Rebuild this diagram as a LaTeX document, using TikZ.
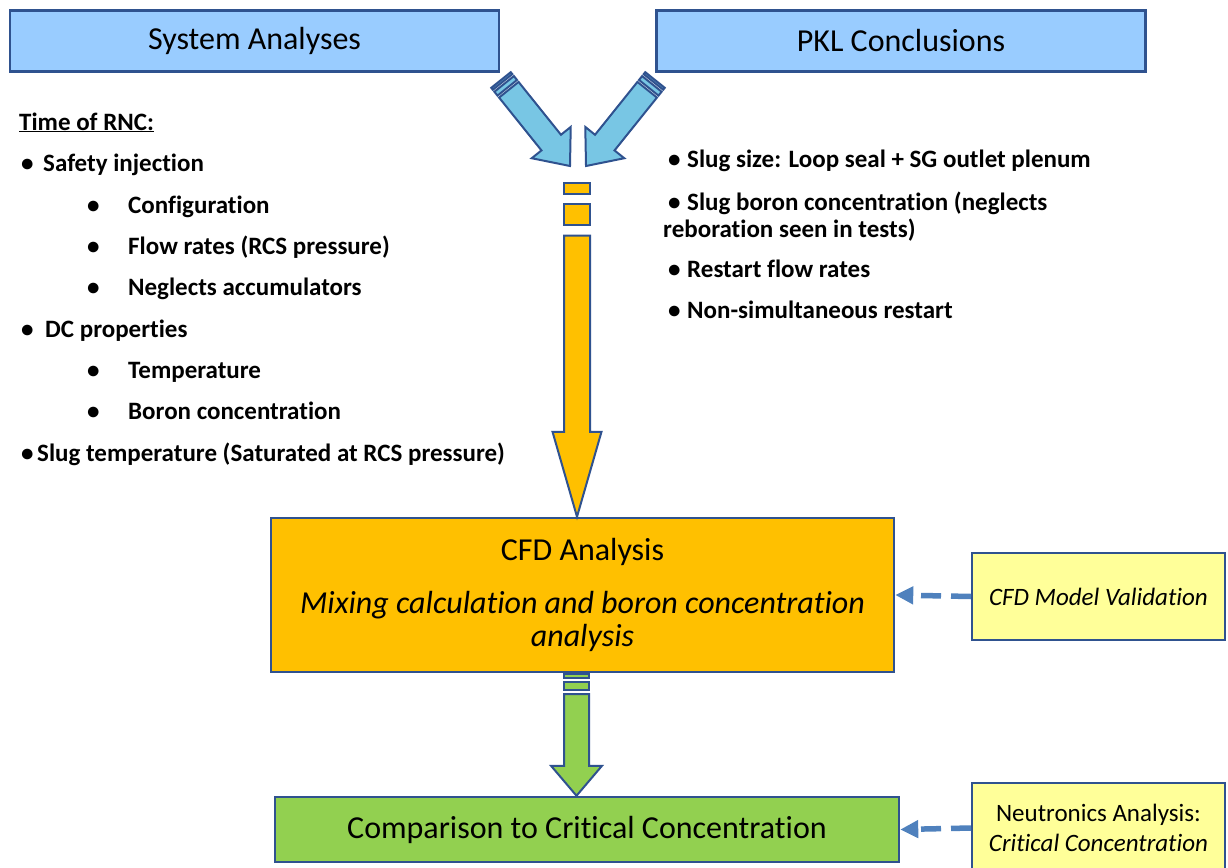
\documentclass[tikz,border=0pt]{standalone}
\usepackage{fontspec}
\setmainfont{Carlito}[Ligatures={NoCommon}]
\usetikzlibrary{arrows.meta, positioning, calc}

\definecolor{titleblue}{RGB}{153,204,255}
\definecolor{edgeblue}{RGB}{47,82,143}
\definecolor{arrowblue}{RGB}{120,198,228}
\definecolor{cfdorange}{RGB}{255,192,0}
\definecolor{compgreen}{RGB}{146,208,80}
\definecolor{noteyellow}{RGB}{255,255,153}
\definecolor{dashblue}{RGB}{79,129,189}

% striped block arrow: style, tail, tip, half shaft, half head, head length, stripe unit
\newcommand{\stripedarrow}[7]{%
  \pgfmathanglebetweenpoints{\pgfpointanchor{#2}{center}}{\pgfpointanchor{#3}{center}}%
  \let\arrang\pgfmathresult
  \pgfpointdiff{\pgfpointanchor{#2}{center}}{\pgfpointanchor{#3}{center}}%
  \pgfgetlastxy{\arrdx}{\arrdy}%
  \pgfmathveclen{\arrdx}{\arrdy}\let\arrlen\pgfmathresult
  \begin{scope}[shift={(#2)}, rotate=\arrang, #1]
    \filldraw (0,-#4) rectangle (#7,#4);
    \filldraw (2*#7,-#4) rectangle (4*#7,#4);
    \filldraw (5*#7,-#4) -- (\arrlen-#6,-#4) -- (\arrlen-#6,-#5) -- (\arrlen,0)
      -- (\arrlen-#6,#5) -- (\arrlen-#6,#4) -- (5*#7,#4) -- cycle;
  \end{scope}}

\tikzset{
  titlebox/.style={draw=edgeblue, line width=2.5pt, fill=titleblue, inner sep=0pt,
    minimum width=489pt, minimum height=61pt, font=\fontsize{32}{36}\selectfont},
  cfdbox/.style={draw=edgeblue, line width=2.5pt, fill=cfdorange, inner sep=0pt, align=center,
    minimum width=623pt, minimum height=154pt, font=\fontsize{32}{33}\selectfont},
  compbox/.style={draw=edgeblue, line width=2.5pt, fill=compgreen, inner sep=0pt,
    minimum width=624pt, minimum height=65pt, font=\fontsize{32}{36}\selectfont},
  notebox/.style={draw=edgeblue, line width=2pt, fill=noteyellow, inner sep=0pt, align=center,
    minimum width=253pt, font=\fontsize{25}{30}\selectfont},
  listtext/.style={anchor=base west, inner sep=0pt, font=\fontsize{25}{30}\selectfont\bfseries},
  blockblue/.style={draw=edgeblue, line width=2pt, fill=arrowblue},
  blockorange/.style={draw=edgeblue, line width=2pt, fill=cfdorange},
  blockgreen/.style={draw=edgeblue, line width=2pt, fill=compgreen},
  dasharrow/.style={draw=dashblue, line width=5.5pt, dash pattern=on 20pt off 10pt,
    -{Triangle[length=18pt, width=17pt]}}
}

\begin{document}
\begin{tikzpicture}[x=1pt, y=-1pt]
    \useasboundingbox (0,0) rectangle (1228,867);

    % Boxes
    \node[titlebox] (sys) at (254.5,41) {System Analyses};
    \node[titlebox] (pkl) at (901,41) {PKL Conclusions};
    \node[cfdbox] (cfd) at (582.5,595) {CFD Analysis\\[20pt]\textit{Mixing calculation and boron concentration}\\\textit{analysis}};
    \node[compbox] (comp) at (587,829.5) {Comparison to Critical Concentration};
    \node[notebox, minimum height=87pt] (val) at (1098.5,596.5) {\textit{CFD Model Validation}};
    \node[notebox, minimum height=90pt] (neu) at (1098.5,828) {Neutronics Analysis:\\\textit{Critical Concentration}};

    % Left list
    \node[listtext] (rnc) at (19,130) {\underline{Time of RNC:}};
    \node[listtext] (si) at (21,171) {\makebox[22pt][l]{\textbullet}Safety injection};
    \node[listtext] (conf) at (87,213) {\makebox[41pt][l]{\textbullet}Configuration};
    \node[listtext] (flow) at (87,254) {\makebox[41pt][l]{\textbullet}Flow rates (RCS pressure)};
    \node[listtext] (acc) at (87,295) {\makebox[41pt][l]{\textbullet}Neglects accumulators};
    \node[listtext] (dc) at (21,337) {\makebox[24pt][l]{\textbullet}DC properties};
    \node[listtext] (temp) at (87,378) {\makebox[41pt][l]{\textbullet}Temperature};
    \node[listtext] (boron) at (87,419) {\makebox[41pt][l]{\textbullet}Boron concentration};
    \node[listtext] (slug) at (21,461) {\makebox[16pt][l]{\textbullet}Slug temperature (Saturated at RCS pressure)};

    % Right list
    \node[listtext] (size) at (668,167) {\makebox[19pt][l]{\textbullet}Slug size: Loop seal + SG outlet plenum};
    \node[listtext] (conc) at (668,210) {\makebox[19pt][l]{\textbullet}Slug boron concentration (neglects};
    \node[listtext] (rebor) at (663,237) {reboration seen in tests)};
    \node[listtext] (rest) at (668,277) {\makebox[19pt][l]{\textbullet}Restart flow rates};
    \node[listtext] (nonsim) at (668,318) {\makebox[19pt][l]{\textbullet}Non-simultaneous restart};

    % Block arrows
    \coordinate (lTail) at (501,80);
    \coordinate (lTip) at (570,166);
    \coordinate (rTail) at (655,80);
    \coordinate (rTip) at (586,166);
    \coordinate (oTail) at (577,183);
    \coordinate (oTip) at (oTail |- cfd.north);
    \coordinate (gTail) at (576.5,674);
    \coordinate (gTip) at (gTail |- comp.north);
    \stripedarrow{blockblue}{lTail}{lTip}{12.5}{25}{30}{2.5}
    \stripedarrow{blockblue}{rTail}{rTip}{12.5}{25}{30}{2.5}
    \stripedarrow{blockorange}{oTail}{oTip}{13}{24.5}{85}{10.5}
    \stripedarrow{blockgreen}{gTail}{gTip}{12.5}{25.5}{30}{4}

    % Dashed inputs
    \draw[dasharrow] (val.west) -- (cfd.east);
    \draw[dasharrow] (neu.west) -- (comp.east);
\end{tikzpicture}
\end{document}
